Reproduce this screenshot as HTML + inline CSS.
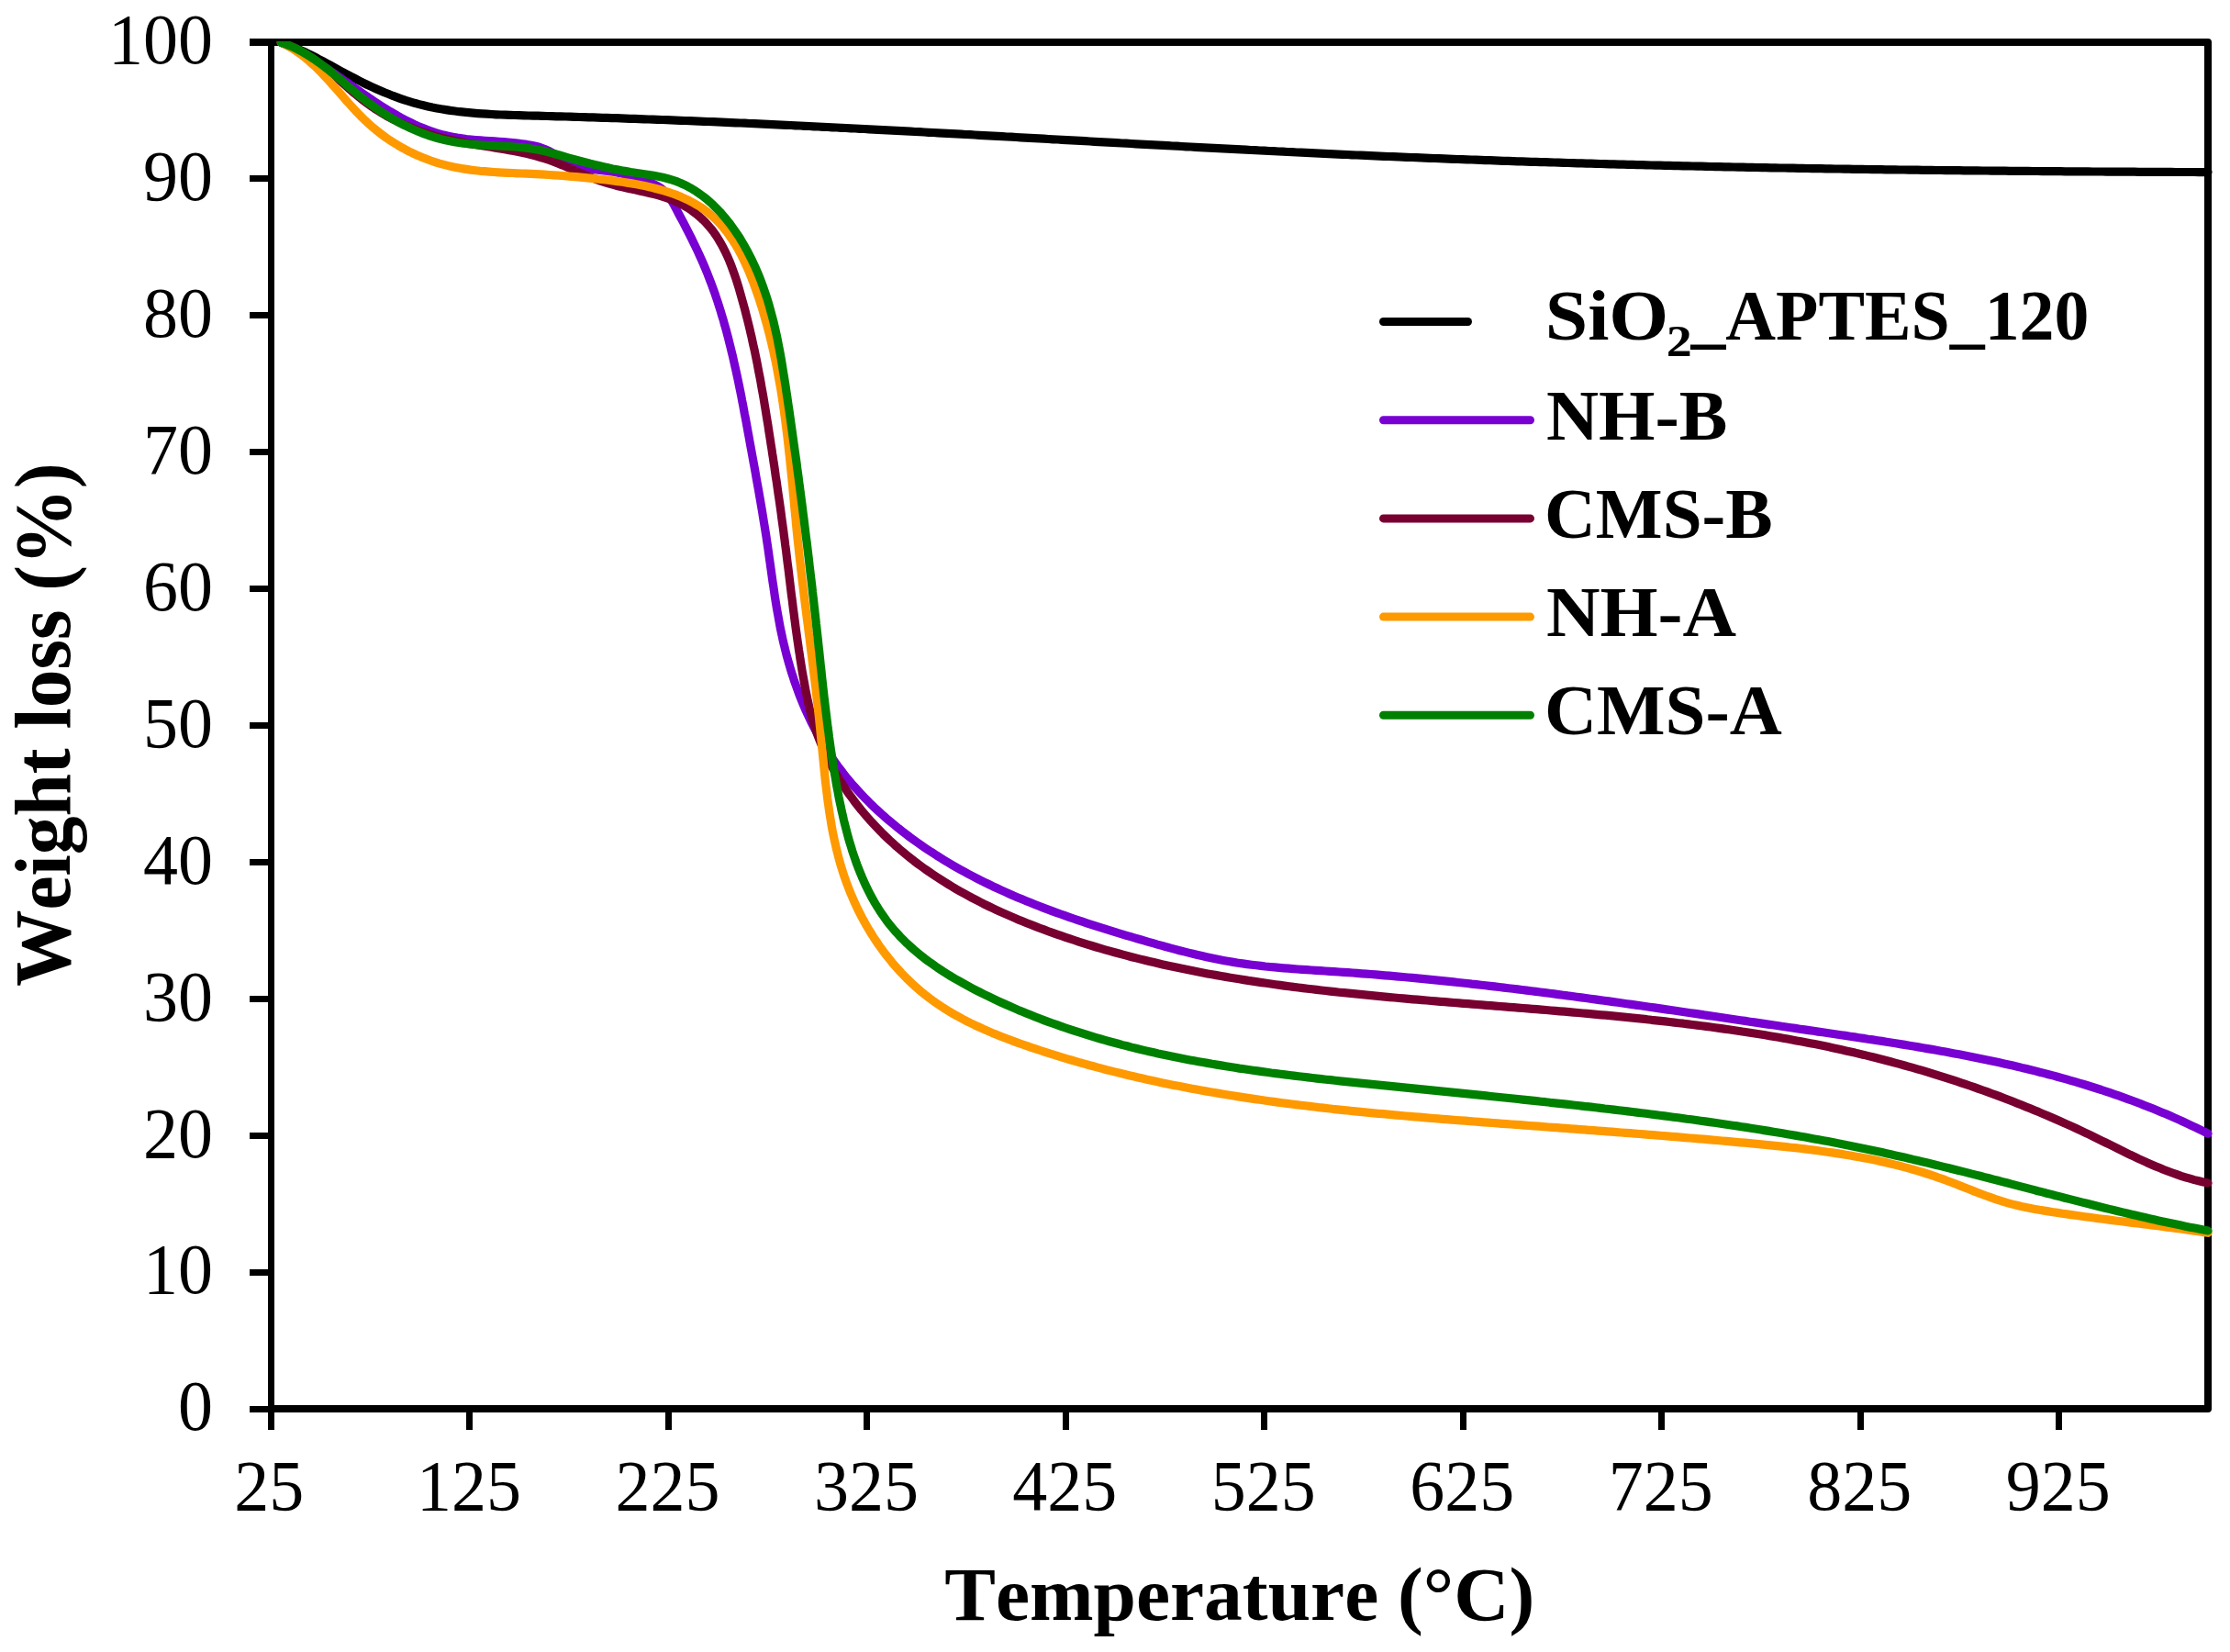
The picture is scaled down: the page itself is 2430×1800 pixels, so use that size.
<!DOCTYPE html>
<html><head><meta charset="utf-8"><title>TGA weight loss</title>
<style>
html,body{margin:0;padding:0;background:#fff;}
body{width:2430px;height:1800px;overflow:hidden;}
svg{display:block;}
.tick{font-family:"Liberation Serif","Times New Roman",serif;font-size:76px;fill:#000;}
.title{font-family:"Liberation Serif","Times New Roman",serif;font-weight:bold;fill:#000;font-kerning:none;}
.leg{font-family:"Liberation Serif","Times New Roman",serif;font-weight:bold;fill:#000;font-kerning:none;}
</style></head><body>
<svg width="2430" height="1800" viewBox="0 0 2430 1800">
<rect width="2430" height="1800" fill="#fff"/>
<defs><clipPath id="pc"><rect x="301" y="45" width="2129" height="1490"/></clipPath></defs>

<g fill="#000">
<path d="M272 46 H2406 V1535 H293" fill="none" stroke="#000" stroke-width="8" stroke-linejoin="round" stroke-linecap="butt"/>
<rect x="292" y="42" width="7" height="1516"/>
<rect x="272" y="1532" width="22" height="7"/>
<rect x="272" y="1383" width="22" height="7"/>
<rect x="272" y="1234" width="22" height="7"/>
<rect x="272" y="1085" width="22" height="7"/>
<rect x="272" y="936" width="22" height="7"/>
<rect x="272" y="787" width="22" height="7"/>
<rect x="272" y="638" width="22" height="7"/>
<rect x="272" y="489" width="22" height="7"/>
<rect x="272" y="340" width="22" height="7"/>
<rect x="272" y="191" width="22" height="7"/>
<rect x="508" y="1535" width="7" height="23"/>
<rect x="725" y="1535" width="7" height="23"/>
<rect x="941" y="1535" width="7" height="23"/>
<rect x="1158" y="1535" width="7" height="23"/>
<rect x="1374" y="1535" width="7" height="23"/>
<rect x="1591" y="1535" width="7" height="23"/>
<rect x="1807" y="1535" width="7" height="23"/>
<rect x="2024" y="1535" width="7" height="23"/>
<rect x="2240" y="1535" width="7" height="23"/>
</g>
<g fill="none" stroke-width="9.2" stroke-linecap="round" stroke-linejoin="round" clip-path="url(#pc)">
<path stroke="#000000" d="M306.3 46.3 L311.0 47.9 L315.6 49.6 L320.2 51.4 L324.7 53.4 L329.3 55.4 L333.8 57.5 L338.2 59.7 L342.7 61.9 L347.1 64.3 L351.6 66.6 L356.0 69.0 L360.4 71.4 L364.8 73.8 L369.2 76.2 L373.6 78.7 L378.1 81.0 L382.5 83.4 L387.0 85.7 L391.5 88.0 L396.0 90.3 L400.5 92.5 L405.1 94.6 L409.7 96.7 L414.3 98.7 L418.9 100.7 L423.5 102.5 L428.2 104.4 L432.8 106.1 L437.5 107.8 L442.2 109.4 L447.0 110.8 L451.8 112.3 L456.6 113.6 L461.4 114.8 L466.2 115.9 L471.1 117.0 L475.9 117.9 L480.8 118.8 L485.8 119.6 L490.7 120.4 L495.6 121.0 L500.6 121.7 L505.6 122.2 L510.6 122.7 L515.6 123.2 L520.6 123.6 L525.6 123.9 L530.6 124.2 L535.7 124.5 L540.7 124.8 L545.8 125.0 L550.8 125.2 L555.9 125.4 L560.9 125.5 L566.0 125.7 L571.0 125.8 L576.1 126.0 L581.1 126.1 L586.2 126.2 L591.2 126.4 L596.2 126.5 L601.3 126.6 L606.3 126.8 L611.3 126.9 L616.4 127.0 L621.4 127.2 L626.4 127.3 L631.4 127.5 L636.5 127.6 L641.5 127.8 L646.5 127.9 L651.5 128.1 L656.5 128.3 L661.5 128.4 L666.5 128.6 L671.5 128.7 L676.5 128.9 L681.6 129.1 L686.6 129.3 L691.6 129.4 L696.6 129.6 L701.6 129.8 L706.6 130.0 L711.6 130.1 L716.6 130.3 L721.6 130.5 L726.6 130.7 L731.6 130.9 L736.6 131.1 L741.6 131.3 L746.7 131.5 L751.7 131.7 L756.7 131.9 L761.7 132.1 L766.7 132.3 L771.7 132.5 L776.7 132.7 L781.7 132.9 L786.7 133.1 L791.7 133.3 L796.7 133.6 L801.7 133.8 L806.7 134.0 L811.8 134.2 L816.8 134.5 L821.8 134.7 L826.8 134.9 L831.8 135.1 L836.8 135.4 L841.8 135.6 L846.8 135.8 L851.8 136.1 L856.8 136.3 L861.8 136.5 L866.8 136.8 L871.9 137.0 L876.9 137.3 L881.9 137.5 L886.9 137.8 L891.9 138.0 L896.9 138.3 L901.9 138.5 L906.9 138.8 L911.9 139.0 L916.9 139.3 L921.9 139.5 L927.0 139.8 L932.0 140.0 L937.0 140.3 L942.0 140.5 L947.0 140.8 L952.0 141.1 L957.0 141.3 L962.0 141.6 L967.0 141.9 L972.0 142.1 L977.0 142.4 L982.1 142.6 L987.1 142.9 L992.1 143.2 L997.1 143.5 L1002.1 143.7 L1007.1 144.0 L1012.1 144.3 L1017.1 144.5 L1022.1 144.8 L1027.1 145.1 L1032.1 145.4 L1037.2 145.6 L1042.2 145.9 L1047.2 146.2 L1052.2 146.5 L1057.2 146.7 L1062.2 147.0 L1067.2 147.3 L1072.2 147.6 L1077.2 147.8 L1082.2 148.1 L1087.3 148.4 L1092.3 148.7 L1097.3 149.0 L1102.3 149.2 L1107.3 149.5 L1112.3 149.8 L1117.3 150.1 L1122.3 150.4 L1127.3 150.6 L1132.3 150.9 L1137.4 151.2 L1142.4 151.5 L1147.4 151.8 L1152.4 152.0 L1157.4 152.3 L1162.4 152.6 L1167.4 152.9 L1172.4 153.2 L1177.4 153.4 L1182.5 153.7 L1187.5 154.0 L1192.5 154.3 L1197.5 154.6 L1202.5 154.8 L1207.5 155.1 L1212.5 155.4 L1217.5 155.7 L1222.5 156.0 L1227.5 156.2 L1232.6 156.5 L1237.6 156.8 L1242.6 157.1 L1247.6 157.3 L1252.6 157.6 L1257.6 157.9 L1262.6 158.2 L1267.6 158.4 L1272.6 158.7 L1277.7 159.0 L1282.7 159.2 L1287.7 159.5 L1292.7 159.8 L1297.7 160.0 L1302.7 160.3 L1307.7 160.6 L1312.7 160.9 L1317.7 161.1 L1322.8 161.4 L1327.8 161.6 L1332.8 161.9 L1337.8 162.2 L1342.8 162.4 L1347.8 162.7 L1352.8 162.9 L1357.8 163.2 L1362.9 163.5 L1367.9 163.7 L1372.9 164.0 L1377.9 164.2 L1382.9 164.5 L1387.9 164.7 L1392.9 165.0 L1397.9 165.2 L1403.0 165.5 L1408.0 165.7 L1413.0 166.0 L1418.0 166.2 L1423.0 166.4 L1428.0 166.7 L1433.0 166.9 L1438.0 167.2 L1443.0 167.4 L1448.1 167.6 L1453.1 167.9 L1458.1 168.1 L1463.1 168.3 L1468.1 168.5 L1473.1 168.8 L1478.1 169.0 L1483.1 169.2 L1488.2 169.4 L1493.2 169.7 L1498.2 169.9 L1503.2 170.1 L1508.2 170.3 L1513.2 170.5 L1518.2 170.7 L1523.3 170.9 L1528.3 171.1 L1533.3 171.3 L1538.3 171.5 L1543.3 171.7 L1548.3 171.9 L1553.3 172.1 L1558.3 172.3 L1563.4 172.5 L1568.4 172.7 L1573.4 172.9 L1578.4 173.1 L1583.4 173.3 L1588.4 173.5 L1593.4 173.7 L1598.4 173.9 L1603.5 174.0 L1608.5 174.2 L1613.5 174.4 L1618.5 174.6 L1623.5 174.7 L1628.5 174.9 L1633.5 175.1 L1638.6 175.3 L1643.6 175.4 L1648.6 175.6 L1653.6 175.8 L1658.6 175.9 L1663.6 176.1 L1668.6 176.3 L1673.7 176.4 L1678.7 176.6 L1683.7 176.7 L1688.7 176.9 L1693.7 177.0 L1698.7 177.2 L1703.7 177.3 L1708.8 177.5 L1713.8 177.6 L1718.8 177.8 L1723.8 177.9 L1728.8 178.1 L1733.8 178.2 L1738.8 178.4 L1743.9 178.5 L1748.9 178.6 L1753.9 178.8 L1758.9 178.9 L1763.9 179.1 L1768.9 179.2 L1773.9 179.3 L1779.0 179.4 L1784.0 179.6 L1789.0 179.7 L1794.0 179.8 L1799.0 180.0 L1804.0 180.1 L1809.0 180.2 L1814.1 180.3 L1819.1 180.4 L1824.1 180.6 L1829.1 180.7 L1834.1 180.8 L1839.1 180.9 L1844.1 181.0 L1849.2 181.1 L1854.2 181.2 L1859.2 181.4 L1864.2 181.5 L1869.2 181.6 L1874.2 181.7 L1879.3 181.8 L1884.3 181.9 L1889.3 182.0 L1894.3 182.1 L1899.3 182.2 L1904.3 182.3 L1909.3 182.4 L1914.4 182.5 L1919.4 182.6 L1924.4 182.7 L1929.4 182.8 L1934.4 182.9 L1939.4 183.0 L1944.5 183.0 L1949.5 183.1 L1954.5 183.2 L1959.5 183.3 L1964.5 183.4 L1969.5 183.5 L1974.5 183.6 L1979.6 183.6 L1984.6 183.7 L1989.6 183.8 L1994.6 183.9 L1999.6 184.0 L2004.6 184.0 L2009.7 184.1 L2014.7 184.2 L2019.7 184.3 L2024.7 184.3 L2029.7 184.4 L2034.7 184.5 L2039.8 184.6 L2044.8 184.6 L2049.8 184.7 L2054.8 184.8 L2059.8 184.8 L2064.8 184.9 L2069.8 185.0 L2074.9 185.0 L2079.9 185.1 L2084.9 185.2 L2089.9 185.2 L2094.9 185.3 L2099.9 185.3 L2105.0 185.4 L2110.0 185.5 L2115.0 185.5 L2120.0 185.6 L2125.0 185.6 L2130.0 185.7 L2135.1 185.7 L2140.1 185.8 L2145.1 185.8 L2150.1 185.9 L2155.1 185.9 L2160.1 186.0 L2165.2 186.0 L2170.2 186.1 L2175.2 186.1 L2180.2 186.2 L2185.2 186.2 L2190.2 186.3 L2195.3 186.3 L2200.3 186.4 L2205.3 186.4 L2210.3 186.4 L2215.3 186.5 L2220.3 186.5 L2225.4 186.6 L2230.4 186.6 L2235.4 186.6 L2240.4 186.7 L2245.4 186.7 L2250.5 186.8 L2255.5 186.8 L2260.5 186.8 L2265.5 186.9 L2270.5 186.9 L2275.5 186.9 L2280.6 187.0 L2285.6 187.0 L2290.6 187.0 L2295.6 187.1 L2300.6 187.1 L2305.6 187.1 L2310.7 187.1 L2315.7 187.2 L2320.7 187.2 L2325.7 187.2 L2330.7 187.3 L2335.8 187.3 L2340.8 187.3 L2345.8 187.3 L2350.8 187.4 L2355.8 187.4 L2360.8 187.4 L2365.9 187.4 L2370.9 187.5 L2375.9 187.5 L2380.9 187.5 L2385.9 187.5 L2390.9 187.5 L2396.0 187.6 L2401.0 187.6 L2406.0 187.6"/>
<path stroke="#7800D2" d="M306.3 46.3 L310.8 48.3 L315.2 50.4 L319.6 52.7 L324.0 55.0 L328.3 57.4 L332.6 59.8 L336.9 62.4 L341.1 65.0 L345.4 67.6 L349.6 70.3 L353.8 73.1 L358.0 75.9 L362.2 78.8 L366.3 81.6 L370.5 84.5 L374.6 87.4 L378.8 90.3 L382.9 93.2 L387.1 96.2 L391.2 99.1 L395.4 102.0 L399.6 104.8 L403.7 107.7 L407.9 110.5 L412.2 113.3 L416.4 116.0 L420.6 118.6 L424.9 121.3 L429.2 123.8 L433.5 126.3 L437.9 128.7 L442.3 131.0 L446.7 133.2 L451.1 135.4 L455.6 137.4 L460.2 139.3 L464.7 141.1 L469.4 142.8 L474.0 144.4 L478.8 145.8 L483.5 147.1 L488.4 148.2 L493.3 149.2 L498.2 150.1 L503.2 150.8 L508.2 151.5 L513.2 152.0 L518.3 152.5 L523.4 152.9 L528.5 153.3 L533.6 153.6 L538.8 153.9 L543.9 154.3 L549.0 154.7 L554.0 155.1 L559.1 155.5 L564.1 156.1 L569.1 156.7 L574.0 157.4 L578.9 158.3 L583.7 159.3 L588.4 160.5 L593.0 162.2 L597.5 164.2 L602.0 166.5 L606.5 168.8 L611.0 171.2 L615.4 173.6 L620.0 176.0 L624.5 178.1 L629.1 180.1 L633.8 181.7 L638.6 183.0 L643.5 184.0 L648.4 184.8 L653.4 185.5 L658.4 186.0 L663.4 186.6 L668.3 187.3 L673.3 188.2 L678.2 189.2 L683.0 190.5 L687.8 191.9 L692.6 193.5 L697.4 195.1 L702.1 196.8 L706.9 198.6 L711.6 200.4 L716.0 202.5 L720.2 205.0 L723.8 208.0 L727.0 211.5 L729.8 215.5 L732.4 219.7 L734.9 224.1 L737.3 228.6 L739.6 233.0 L742.0 237.5 L744.4 241.9 L746.7 246.4 L749.0 250.9 L751.3 255.3 L753.6 259.9 L755.8 264.4 L758.0 268.9 L760.1 273.4 L762.2 278.0 L764.3 282.6 L766.3 287.2 L768.3 291.8 L770.2 296.4 L772.0 301.1 L773.8 305.7 L775.6 310.4 L777.3 315.1 L779.0 319.8 L780.6 324.6 L782.2 329.3 L783.7 334.1 L785.2 338.8 L786.6 343.6 L788.1 348.4 L789.4 353.2 L790.8 358.0 L792.1 362.9 L793.4 367.7 L794.6 372.6 L795.8 377.4 L797.0 382.3 L798.2 387.2 L799.3 392.0 L800.4 396.9 L801.5 401.8 L802.6 406.7 L803.7 411.7 L804.7 416.6 L805.7 421.5 L806.7 426.4 L807.7 431.3 L808.6 436.3 L809.6 441.2 L810.5 446.1 L811.4 451.1 L812.4 456.0 L813.3 460.9 L814.2 465.9 L815.1 470.8 L816.0 475.7 L816.9 480.7 L817.8 485.6 L818.7 490.5 L819.6 495.5 L820.5 500.4 L821.4 505.3 L822.3 510.2 L823.2 515.2 L824.0 520.1 L824.9 525.0 L825.8 529.9 L826.7 534.9 L827.5 539.8 L828.4 544.7 L829.2 549.6 L830.1 554.6 L830.9 559.5 L831.7 564.4 L832.5 569.4 L833.3 574.3 L834.1 579.3 L834.9 584.2 L835.6 589.2 L836.4 594.2 L837.1 599.1 L837.8 604.1 L838.5 609.1 L839.2 614.0 L839.9 619.0 L840.6 624.0 L841.3 629.0 L842.0 634.0 L842.8 639.0 L843.5 643.9 L844.2 648.9 L845.0 653.9 L845.8 658.9 L846.6 663.8 L847.5 668.8 L848.4 673.7 L849.3 678.7 L850.2 683.6 L851.2 688.5 L852.3 693.4 L853.3 698.3 L854.5 703.2 L855.7 708.1 L856.9 713.0 L858.2 717.8 L859.6 722.6 L861.0 727.5 L862.4 732.3 L864.0 737.0 L865.5 741.8 L867.2 746.5 L868.9 751.2 L870.6 755.9 L872.4 760.6 L874.3 765.2 L876.2 769.8 L878.2 774.4 L880.3 778.9 L882.4 783.4 L884.6 787.9 L886.9 792.3 L889.2 796.7 L891.5 801.1 L894.0 805.5 L896.5 809.7 L899.0 814.0 L901.7 818.2 L904.4 822.4 L907.2 826.5 L910.0 830.6 L912.9 834.7 L915.9 838.6 L918.9 842.6 L922.0 846.5 L925.2 850.4 L928.4 854.2 L931.7 857.9 L935.1 861.6 L938.5 865.3 L941.9 868.9 L945.5 872.5 L949.0 876.1 L952.6 879.6 L956.3 883.0 L960.0 886.4 L963.8 889.7 L967.6 893.1 L971.5 896.3 L975.4 899.5 L979.3 902.7 L983.3 905.8 L987.3 908.9 L991.3 912.0 L995.4 914.9 L999.5 917.9 L1003.6 920.8 L1007.8 923.7 L1012.0 926.5 L1016.2 929.2 L1020.5 932.0 L1024.7 934.6 L1029.0 937.3 L1033.3 939.9 L1037.6 942.4 L1042.0 944.9 L1046.4 947.4 L1050.7 949.8 L1055.1 952.2 L1059.5 954.5 L1064.0 956.8 L1068.4 959.1 L1072.9 961.3 L1077.4 963.5 L1081.8 965.7 L1086.4 967.8 L1090.9 969.9 L1095.4 971.9 L1100.0 974.0 L1104.5 976.0 L1109.1 977.9 L1113.7 979.8 L1118.3 981.7 L1122.9 983.6 L1127.6 985.5 L1132.2 987.3 L1136.9 989.1 L1141.6 990.8 L1146.3 992.6 L1151.0 994.3 L1155.7 996.0 L1160.4 997.7 L1165.1 999.3 L1169.9 1001.0 L1174.6 1002.6 L1179.4 1004.2 L1184.2 1005.8 L1188.9 1007.3 L1193.7 1008.9 L1198.5 1010.4 L1203.3 1011.9 L1208.1 1013.4 L1212.9 1014.9 L1217.7 1016.4 L1222.6 1017.8 L1227.4 1019.3 L1232.2 1020.7 L1237.0 1022.1 L1241.9 1023.5 L1246.7 1024.9 L1251.5 1026.3 L1256.4 1027.7 L1261.2 1029.1 L1266.1 1030.4 L1270.9 1031.8 L1275.8 1033.1 L1280.6 1034.4 L1285.5 1035.7 L1290.3 1036.9 L1295.2 1038.1 L1300.0 1039.3 L1304.9 1040.5 L1309.8 1041.6 L1314.7 1042.7 L1319.6 1043.8 L1324.5 1044.8 L1329.4 1045.8 L1334.3 1046.7 L1339.2 1047.6 L1344.1 1048.4 L1349.1 1049.2 L1354.0 1049.9 L1359.0 1050.6 L1363.9 1051.2 L1368.9 1051.8 L1373.9 1052.4 L1378.8 1053.0 L1383.8 1053.5 L1388.8 1053.9 L1393.8 1054.4 L1398.8 1054.8 L1403.8 1055.2 L1408.8 1055.6 L1413.8 1056.0 L1418.8 1056.3 L1423.9 1056.7 L1428.9 1057.0 L1433.9 1057.3 L1438.9 1057.7 L1443.9 1058.0 L1448.9 1058.3 L1454.0 1058.6 L1459.0 1059.0 L1464.0 1059.3 L1469.0 1059.7 L1474.0 1060.0 L1479.0 1060.4 L1484.0 1060.8 L1489.0 1061.1 L1494.0 1061.5 L1499.0 1061.9 L1504.0 1062.4 L1509.0 1062.8 L1514.0 1063.2 L1519.0 1063.6 L1524.0 1064.1 L1529.0 1064.5 L1534.0 1065.0 L1539.0 1065.4 L1544.0 1065.9 L1549.0 1066.4 L1554.0 1066.9 L1559.0 1067.4 L1564.0 1067.9 L1569.0 1068.4 L1573.9 1068.9 L1578.9 1069.4 L1583.9 1069.9 L1588.9 1070.5 L1593.9 1071.0 L1598.9 1071.5 L1603.8 1072.1 L1608.8 1072.6 L1613.8 1073.2 L1618.8 1073.8 L1623.7 1074.3 L1628.7 1074.9 L1633.7 1075.5 L1638.7 1076.1 L1643.6 1076.7 L1648.6 1077.3 L1653.6 1077.9 L1658.5 1078.5 L1663.5 1079.1 L1668.5 1079.7 L1673.5 1080.4 L1678.4 1081.0 L1683.4 1081.6 L1688.4 1082.3 L1693.3 1082.9 L1698.3 1083.6 L1703.3 1084.2 L1708.2 1084.9 L1713.2 1085.5 L1718.1 1086.2 L1723.1 1086.9 L1728.1 1087.5 L1733.0 1088.2 L1738.0 1088.9 L1743.0 1089.6 L1747.9 1090.2 L1752.9 1090.9 L1757.8 1091.6 L1762.8 1092.3 L1767.8 1093.0 L1772.7 1093.7 L1777.7 1094.4 L1782.6 1095.1 L1787.6 1095.8 L1792.6 1096.5 L1797.5 1097.2 L1802.5 1097.9 L1807.4 1098.6 L1812.4 1099.4 L1817.4 1100.1 L1822.3 1100.8 L1827.3 1101.5 L1832.2 1102.2 L1837.2 1103.0 L1842.2 1103.7 L1847.1 1104.4 L1852.1 1105.1 L1857.0 1105.9 L1862.0 1106.6 L1867.0 1107.3 L1871.9 1108.0 L1876.9 1108.8 L1881.8 1109.5 L1886.8 1110.2 L1891.8 1111.0 L1896.7 1111.7 L1901.7 1112.4 L1906.7 1113.2 L1911.6 1113.9 L1916.6 1114.6 L1921.6 1115.4 L1926.5 1116.1 L1931.5 1116.8 L1936.5 1117.5 L1941.4 1118.3 L1946.4 1119.0 L1951.4 1119.7 L1956.3 1120.4 L1961.3 1121.2 L1966.3 1121.9 L1971.2 1122.6 L1976.2 1123.3 L1981.2 1124.1 L1986.2 1124.8 L1991.1 1125.5 L1996.1 1126.2 L2001.1 1127.0 L2006.0 1127.7 L2011.0 1128.4 L2016.0 1129.2 L2020.9 1129.9 L2025.9 1130.7 L2030.9 1131.4 L2035.8 1132.2 L2040.8 1132.9 L2045.8 1133.7 L2050.7 1134.4 L2055.7 1135.2 L2060.7 1136.0 L2065.6 1136.8 L2070.6 1137.6 L2075.5 1138.4 L2080.5 1139.2 L2085.4 1140.0 L2090.4 1140.9 L2095.3 1141.7 L2100.3 1142.6 L2105.2 1143.4 L2110.1 1144.3 L2115.1 1145.2 L2120.0 1146.1 L2124.9 1147.0 L2129.8 1147.9 L2134.8 1148.8 L2139.7 1149.8 L2144.6 1150.7 L2149.5 1151.7 L2154.4 1152.7 L2159.3 1153.7 L2164.2 1154.7 L2169.1 1155.7 L2174.0 1156.8 L2178.9 1157.8 L2183.8 1158.9 L2188.6 1160.0 L2193.5 1161.1 L2198.4 1162.2 L2203.2 1163.4 L2208.1 1164.5 L2212.9 1165.7 L2217.8 1166.9 L2222.6 1168.2 L2227.5 1169.4 L2232.3 1170.7 L2237.1 1171.9 L2241.9 1173.2 L2246.8 1174.6 L2251.6 1175.9 L2256.4 1177.3 L2261.1 1178.7 L2265.9 1180.1 L2270.7 1181.5 L2275.5 1183.0 L2280.3 1184.5 L2285.0 1186.0 L2289.8 1187.5 L2294.5 1189.1 L2299.3 1190.7 L2304.0 1192.3 L2308.7 1193.9 L2313.4 1195.6 L2318.1 1197.3 L2322.8 1199.0 L2327.5 1200.8 L2332.2 1202.5 L2336.9 1204.4 L2341.6 1206.2 L2346.2 1208.1 L2350.9 1210.0 L2355.5 1211.9 L2360.2 1213.8 L2364.8 1215.8 L2369.4 1217.9 L2374.0 1219.9 L2378.6 1222.0 L2383.2 1224.1 L2387.8 1226.3 L2392.3 1228.4 L2396.9 1230.7 L2401.5 1232.9 L2406.0 1235.2"/>
<path stroke="#780030" d="M306.3 46.3 L311.1 47.9 L315.8 49.7 L320.4 51.7 L324.9 54.0 L329.2 56.3 L333.5 58.9 L337.7 61.6 L341.8 64.4 L345.8 67.4 L349.8 70.5 L353.7 73.6 L357.6 76.8 L361.4 80.1 L365.2 83.4 L369.1 86.7 L372.9 90.1 L376.7 93.4 L380.5 96.8 L384.3 100.1 L388.2 103.3 L392.1 106.5 L396.0 109.6 L400.0 112.6 L404.1 115.5 L408.2 118.3 L412.4 121.0 L416.6 123.6 L420.9 126.1 L425.2 128.4 L429.6 130.7 L434.1 132.9 L438.6 135.0 L443.1 137.0 L447.7 138.9 L452.3 140.8 L457.0 142.5 L461.7 144.1 L466.4 145.7 L471.2 147.2 L476.0 148.6 L480.8 149.9 L485.6 151.1 L490.5 152.3 L495.4 153.3 L500.3 154.3 L505.3 155.3 L510.2 156.2 L515.2 157.1 L520.1 157.9 L525.1 158.7 L530.1 159.5 L535.1 160.3 L540.0 161.1 L545.0 161.9 L550.0 162.8 L554.9 163.6 L559.9 164.5 L564.8 165.5 L569.7 166.5 L574.6 167.6 L579.4 168.8 L584.3 170.1 L589.1 171.5 L593.8 172.9 L598.6 174.5 L603.3 176.2 L607.9 178.0 L612.6 179.9 L617.2 181.9 L621.8 183.8 L626.4 185.9 L631.0 187.9 L635.6 189.8 L640.2 191.8 L644.9 193.6 L649.5 195.4 L654.2 197.1 L658.9 198.6 L663.7 200.1 L668.5 201.4 L673.3 202.7 L678.2 203.9 L683.1 205.0 L688.0 206.1 L693.0 207.1 L697.9 208.2 L702.9 209.3 L707.8 210.4 L712.7 211.6 L717.6 212.9 L722.4 214.3 L727.2 215.9 L731.8 217.6 L736.4 219.5 L740.9 221.7 L745.2 224.0 L749.5 226.5 L753.6 229.3 L757.5 232.2 L761.4 235.3 L765.0 238.6 L768.5 242.0 L771.8 245.7 L775.0 249.4 L778.0 253.3 L780.8 257.4 L783.4 261.6 L785.9 265.9 L788.3 270.3 L790.6 274.8 L792.7 279.4 L794.7 284.0 L796.6 288.8 L798.4 293.6 L800.1 298.4 L801.8 303.3 L803.4 308.2 L804.9 313.1 L806.3 318.1 L807.7 323.0 L809.1 327.9 L810.5 332.9 L811.8 337.8 L813.0 342.7 L814.3 347.6 L815.5 352.5 L816.7 357.4 L817.8 362.3 L819.0 367.2 L820.0 372.0 L821.1 376.9 L822.2 381.8 L823.2 386.7 L824.2 391.5 L825.2 396.4 L826.1 401.3 L827.0 406.1 L828.0 411.0 L828.9 415.9 L829.7 420.7 L830.6 425.6 L831.5 430.5 L832.3 435.3 L833.1 440.2 L833.9 445.1 L834.7 450.0 L835.5 454.9 L836.3 459.8 L837.1 464.6 L837.8 469.6 L838.6 474.5 L839.4 479.4 L840.1 484.3 L840.9 489.2 L841.6 494.2 L842.4 499.1 L843.1 504.1 L843.9 509.0 L844.6 514.0 L845.3 519.0 L846.1 523.9 L846.8 528.9 L847.5 533.9 L848.2 538.9 L849.0 543.9 L849.7 548.9 L850.4 553.9 L851.1 558.9 L851.7 563.9 L852.4 568.9 L853.1 573.9 L853.8 578.9 L854.4 583.9 L855.1 588.9 L855.7 593.9 L856.4 598.8 L857.0 603.8 L857.6 608.8 L858.2 613.8 L858.9 618.8 L859.5 623.8 L860.1 628.8 L860.7 633.8 L861.3 638.7 L861.9 643.7 L862.5 648.7 L863.2 653.7 L863.8 658.6 L864.4 663.6 L865.1 668.6 L865.7 673.5 L866.4 678.5 L867.0 683.4 L867.7 688.4 L868.4 693.3 L869.1 698.3 L869.8 703.2 L870.5 708.2 L871.3 713.1 L872.0 718.1 L872.8 723.0 L873.6 727.9 L874.4 732.9 L875.3 737.8 L876.2 742.7 L877.1 747.6 L878.0 752.5 L879.0 757.4 L880.0 762.3 L881.1 767.2 L882.2 772.0 L883.4 776.9 L884.7 781.7 L886.1 786.4 L887.6 791.2 L889.1 795.9 L890.8 800.6 L892.6 805.3 L894.4 809.9 L896.4 814.5 L898.4 819.0 L900.5 823.6 L902.7 828.0 L905.0 832.5 L907.4 836.9 L909.9 841.3 L912.4 845.6 L915.0 849.9 L917.7 854.1 L920.5 858.3 L923.3 862.5 L926.2 866.6 L929.2 870.6 L932.2 874.7 L935.3 878.6 L938.5 882.6 L941.7 886.4 L945.0 890.3 L948.3 894.0 L951.7 897.7 L955.2 901.4 L958.7 905.0 L962.2 908.6 L965.8 912.1 L969.5 915.6 L973.2 918.9 L976.9 922.3 L980.7 925.6 L984.5 928.8 L988.4 932.0 L992.3 935.1 L996.2 938.2 L1000.2 941.2 L1004.2 944.1 L1008.3 947.1 L1012.4 949.9 L1016.5 952.7 L1020.7 955.5 L1024.8 958.2 L1029.1 960.9 L1033.3 963.5 L1037.6 966.1 L1041.9 968.7 L1046.3 971.2 L1050.6 973.6 L1055.0 976.0 L1059.4 978.4 L1063.9 980.7 L1068.4 983.0 L1072.9 985.3 L1077.4 987.5 L1081.9 989.6 L1086.5 991.8 L1091.0 993.9 L1095.6 995.9 L1100.2 997.9 L1104.8 999.9 L1109.5 1001.9 L1114.1 1003.8 L1118.8 1005.7 L1123.5 1007.6 L1128.2 1009.4 L1132.9 1011.2 L1137.6 1012.9 L1142.3 1014.7 L1147.0 1016.4 L1151.8 1018.1 L1156.5 1019.7 L1161.2 1021.3 L1166.0 1022.9 L1170.8 1024.5 L1175.5 1026.1 L1180.3 1027.6 L1185.1 1029.1 L1189.8 1030.5 L1194.6 1032.0 L1199.4 1033.4 L1204.2 1034.8 L1209.0 1036.2 L1213.8 1037.5 L1218.6 1038.8 L1223.5 1040.1 L1228.3 1041.4 L1233.1 1042.7 L1237.9 1043.9 L1242.8 1045.1 L1247.6 1046.3 L1252.5 1047.5 L1257.3 1048.6 L1262.2 1049.8 L1267.1 1050.9 L1271.9 1051.9 L1276.8 1053.0 L1281.7 1054.1 L1286.5 1055.1 L1291.4 1056.1 L1296.3 1057.1 L1301.2 1058.1 L1306.1 1059.0 L1311.0 1059.9 L1315.9 1060.9 L1320.8 1061.8 L1325.7 1062.6 L1330.6 1063.5 L1335.6 1064.4 L1340.5 1065.2 L1345.4 1066.0 L1350.3 1066.8 L1355.3 1067.6 L1360.2 1068.4 L1365.2 1069.1 L1370.1 1069.9 L1375.0 1070.6 L1380.0 1071.3 L1384.9 1072.0 L1389.9 1072.7 L1394.8 1073.4 L1399.8 1074.1 L1404.8 1074.7 L1409.7 1075.4 L1414.7 1076.0 L1419.7 1076.6 L1424.6 1077.2 L1429.6 1077.8 L1434.6 1078.4 L1439.6 1079.0 L1444.5 1079.5 L1449.5 1080.1 L1454.5 1080.6 L1459.5 1081.2 L1464.5 1081.7 L1469.5 1082.2 L1474.5 1082.7 L1479.5 1083.2 L1484.5 1083.7 L1489.4 1084.2 L1494.4 1084.7 L1499.4 1085.2 L1504.4 1085.6 L1509.4 1086.1 L1514.4 1086.6 L1519.4 1087.0 L1524.4 1087.5 L1529.4 1087.9 L1534.5 1088.3 L1539.5 1088.8 L1544.5 1089.2 L1549.5 1089.6 L1554.5 1090.0 L1559.5 1090.5 L1564.5 1090.9 L1569.5 1091.3 L1574.5 1091.7 L1579.5 1092.1 L1584.5 1092.5 L1589.5 1092.9 L1594.5 1093.3 L1599.6 1093.7 L1604.6 1094.1 L1609.6 1094.5 L1614.6 1094.9 L1619.6 1095.3 L1624.6 1095.7 L1629.6 1096.1 L1634.6 1096.5 L1639.6 1096.9 L1644.6 1097.3 L1649.6 1097.7 L1654.6 1098.1 L1659.7 1098.5 L1664.7 1098.9 L1669.7 1099.3 L1674.7 1099.7 L1679.7 1100.1 L1684.7 1100.5 L1689.7 1101.0 L1694.7 1101.4 L1699.7 1101.8 L1704.7 1102.2 L1709.7 1102.7 L1714.7 1103.1 L1719.7 1103.5 L1724.7 1104.0 L1729.7 1104.4 L1734.7 1104.9 L1739.7 1105.3 L1744.7 1105.8 L1749.7 1106.2 L1754.7 1106.7 L1759.7 1107.2 L1764.6 1107.7 L1769.6 1108.2 L1774.6 1108.7 L1779.6 1109.2 L1784.6 1109.7 L1789.6 1110.2 L1794.6 1110.7 L1799.5 1111.3 L1804.5 1111.8 L1809.5 1112.4 L1814.5 1112.9 L1819.4 1113.5 L1824.4 1114.1 L1829.4 1114.7 L1834.3 1115.2 L1839.3 1115.9 L1844.3 1116.5 L1849.2 1117.1 L1854.2 1117.7 L1859.2 1118.4 L1864.1 1119.0 L1869.1 1119.7 L1874.0 1120.4 L1879.0 1121.1 L1883.9 1121.8 L1888.9 1122.5 L1893.8 1123.2 L1898.7 1124.0 L1903.7 1124.7 L1908.6 1125.5 L1913.5 1126.2 L1918.5 1127.0 L1923.4 1127.8 L1928.3 1128.7 L1933.2 1129.5 L1938.2 1130.3 L1943.1 1131.2 L1948.0 1132.1 L1952.9 1133.0 L1957.8 1133.9 L1962.7 1134.8 L1967.6 1135.7 L1972.5 1136.7 L1977.4 1137.6 L1982.3 1138.6 L1987.2 1139.6 L1992.1 1140.6 L1997.0 1141.7 L2001.9 1142.7 L2006.7 1143.8 L2011.6 1144.9 L2016.5 1146.0 L2021.4 1147.1 L2026.2 1148.3 L2031.1 1149.4 L2035.9 1150.6 L2040.8 1151.8 L2045.7 1153.0 L2050.5 1154.2 L2055.3 1155.5 L2060.2 1156.8 L2065.0 1158.1 L2069.9 1159.4 L2074.7 1160.7 L2079.5 1162.1 L2084.3 1163.4 L2089.1 1164.8 L2093.9 1166.2 L2098.8 1167.7 L2103.6 1169.1 L2108.3 1170.6 L2113.1 1172.1 L2117.9 1173.6 L2122.7 1175.1 L2127.5 1176.7 L2132.2 1178.2 L2137.0 1179.8 L2141.8 1181.4 L2146.5 1183.0 L2151.3 1184.7 L2156.0 1186.4 L2160.7 1188.0 L2165.4 1189.7 L2170.2 1191.5 L2174.9 1193.2 L2179.6 1194.9 L2184.3 1196.7 L2189.0 1198.5 L2193.6 1200.3 L2198.3 1202.2 L2203.0 1204.0 L2207.6 1205.9 L2212.3 1207.8 L2216.9 1209.7 L2221.6 1211.6 L2226.2 1213.6 L2230.8 1215.5 L2235.4 1217.5 L2240.0 1219.5 L2244.6 1221.5 L2249.2 1223.6 L2253.8 1225.6 L2258.3 1227.7 L2262.9 1229.8 L2267.4 1231.9 L2272.0 1234.1 L2276.5 1236.2 L2281.0 1238.4 L2285.5 1240.6 L2290.0 1242.8 L2294.5 1245.0 L2299.0 1247.2 L2303.5 1249.4 L2308.0 1251.7 L2312.5 1253.9 L2316.9 1256.1 L2321.4 1258.3 L2326.0 1260.4 L2330.5 1262.6 L2335.0 1264.6 L2339.5 1266.7 L2344.1 1268.7 L2348.7 1270.7 L2353.3 1272.6 L2357.9 1274.5 L2362.6 1276.3 L2367.3 1278.0 L2372.0 1279.7 L2376.7 1281.3 L2381.5 1282.8 L2386.3 1284.2 L2391.2 1285.6 L2396.1 1286.8 L2401.0 1288.0 L2406.0 1289.0"/>
<path stroke="#FF9900" d="M306.3 46.3 L310.9 48.5 L315.3 50.9 L319.6 53.5 L323.8 56.3 L327.8 59.2 L331.7 62.2 L335.6 65.4 L339.3 68.7 L343.0 72.0 L346.6 75.5 L350.1 79.1 L353.6 82.8 L357.0 86.5 L360.4 90.2 L363.7 94.0 L367.1 97.8 L370.4 101.6 L373.8 105.4 L377.1 109.3 L380.5 113.0 L383.9 116.8 L387.3 120.5 L390.8 124.1 L394.3 127.7 L397.9 131.2 L401.6 134.6 L405.3 137.9 L409.1 141.1 L413.0 144.2 L417.0 147.2 L421.0 150.2 L425.1 153.0 L429.3 155.6 L433.5 158.2 L437.8 160.7 L442.1 163.1 L446.5 165.4 L451.0 167.5 L455.5 169.6 L460.1 171.5 L464.7 173.3 L469.3 175.0 L474.0 176.6 L478.8 178.1 L483.6 179.4 L488.4 180.6 L493.3 181.8 L498.2 182.7 L503.1 183.6 L508.1 184.4 L513.0 185.1 L518.0 185.7 L523.1 186.3 L528.1 186.7 L533.2 187.1 L538.2 187.5 L543.3 187.8 L548.3 188.1 L553.4 188.3 L558.4 188.5 L563.5 188.8 L568.5 189.0 L573.5 189.2 L578.5 189.4 L583.5 189.6 L588.4 189.9 L593.3 190.2 L598.2 190.5 L603.1 190.8 L608.0 191.1 L612.9 191.5 L617.8 191.9 L622.7 192.3 L627.6 192.7 L632.5 193.2 L637.5 193.6 L642.5 194.1 L647.5 194.6 L652.5 195.2 L657.6 195.7 L662.7 196.3 L667.8 196.9 L673.0 197.6 L678.1 198.3 L683.3 199.1 L688.4 199.9 L693.5 200.8 L698.6 201.8 L703.7 202.8 L708.7 203.9 L713.7 205.2 L718.6 206.5 L723.5 207.9 L728.3 209.4 L733.1 211.0 L737.8 212.7 L742.4 214.6 L746.8 216.6 L751.2 218.7 L755.5 221.0 L759.7 223.4 L763.8 225.9 L767.7 228.6 L771.5 231.5 L775.2 234.6 L778.7 237.8 L782.1 241.1 L785.4 244.7 L788.5 248.3 L791.5 252.1 L794.4 256.0 L797.2 260.0 L799.9 264.2 L802.5 268.4 L805.0 272.8 L807.3 277.2 L809.6 281.7 L811.8 286.3 L813.9 290.9 L816.0 295.6 L817.9 300.4 L819.8 305.1 L821.6 309.9 L823.4 314.8 L825.1 319.6 L826.8 324.5 L828.3 329.4 L829.9 334.2 L831.4 339.1 L832.8 344.0 L834.2 348.9 L835.6 353.8 L836.9 358.7 L838.2 363.6 L839.4 368.5 L840.6 373.4 L841.7 378.3 L842.9 383.2 L843.9 388.1 L845.0 393.0 L846.0 397.9 L846.9 402.8 L847.8 407.7 L848.7 412.7 L849.6 417.6 L850.5 422.5 L851.3 427.4 L852.1 432.4 L852.8 437.3 L853.5 442.2 L854.3 447.2 L854.9 452.1 L855.6 457.1 L856.2 462.0 L856.9 467.0 L857.5 471.9 L858.1 476.9 L858.6 481.8 L859.2 486.8 L859.7 491.7 L860.3 496.7 L860.8 501.6 L861.3 506.6 L861.8 511.5 L862.3 516.5 L862.8 521.5 L863.3 526.4 L863.8 531.4 L864.2 536.3 L864.7 541.3 L865.2 546.3 L865.6 551.2 L866.1 556.2 L866.6 561.2 L867.1 566.1 L867.5 571.1 L868.0 576.1 L868.5 581.0 L869.0 586.0 L869.5 590.9 L870.1 595.9 L870.6 600.9 L871.1 605.8 L871.7 610.8 L872.3 615.8 L872.8 620.7 L873.4 625.7 L874.0 630.7 L874.6 635.6 L875.2 640.6 L875.8 645.6 L876.4 650.5 L877.0 655.5 L877.6 660.4 L878.3 665.4 L878.9 670.4 L879.5 675.4 L880.2 680.3 L880.8 685.3 L881.4 690.3 L882.1 695.2 L882.7 700.2 L883.3 705.2 L883.9 710.2 L884.6 715.1 L885.2 720.1 L885.8 725.1 L886.4 730.1 L887.0 735.1 L887.7 740.1 L888.3 745.1 L888.9 750.1 L889.4 755.0 L890.0 760.0 L890.6 765.0 L891.2 770.0 L891.7 775.1 L892.3 780.1 L892.8 785.1 L893.3 790.1 L893.8 795.1 L894.3 800.1 L894.8 805.1 L895.3 810.2 L895.8 815.2 L896.3 820.2 L896.8 825.2 L897.3 830.2 L897.8 835.3 L898.3 840.3 L898.8 845.3 L899.3 850.3 L899.9 855.3 L900.5 860.3 L901.1 865.3 L901.7 870.3 L902.4 875.2 L903.1 880.2 L903.8 885.1 L904.6 890.1 L905.4 895.0 L906.2 899.9 L907.1 904.9 L908.1 909.8 L909.1 914.6 L910.2 919.5 L911.3 924.4 L912.5 929.2 L913.7 934.0 L915.0 938.8 L916.4 943.6 L917.9 948.4 L919.4 953.1 L921.0 957.8 L922.7 962.5 L924.5 967.2 L926.3 971.9 L928.3 976.5 L930.3 981.1 L932.3 985.6 L934.5 990.2 L936.7 994.6 L939.0 999.1 L941.4 1003.5 L943.9 1007.9 L946.4 1012.2 L949.0 1016.5 L951.6 1020.7 L954.4 1024.9 L957.2 1029.1 L960.1 1033.1 L963.1 1037.2 L966.1 1041.1 L969.2 1045.0 L972.3 1048.9 L975.6 1052.7 L978.9 1056.4 L982.3 1060.1 L985.7 1063.6 L989.2 1067.2 L992.8 1070.6 L996.4 1074.0 L1000.1 1077.2 L1003.9 1080.5 L1007.7 1083.6 L1011.6 1086.6 L1015.6 1089.6 L1019.6 1092.5 L1023.7 1095.3 L1027.8 1098.0 L1032.0 1100.6 L1036.3 1103.2 L1040.6 1105.7 L1044.9 1108.1 L1049.3 1110.5 L1053.8 1112.8 L1058.2 1115.0 L1062.7 1117.2 L1067.3 1119.3 L1071.9 1121.4 L1076.5 1123.4 L1081.1 1125.4 L1085.8 1127.3 L1090.5 1129.2 L1095.2 1131.0 L1099.9 1132.8 L1104.7 1134.6 L1109.5 1136.3 L1114.2 1138.0 L1119.0 1139.7 L1123.8 1141.3 L1128.6 1142.9 L1133.4 1144.5 L1138.2 1146.1 L1143.0 1147.6 L1147.9 1149.1 L1152.7 1150.6 L1157.5 1152.1 L1162.3 1153.6 L1167.2 1155.0 L1172.0 1156.4 L1176.8 1157.8 L1181.7 1159.1 L1186.5 1160.5 L1191.4 1161.8 L1196.2 1163.1 L1201.1 1164.4 L1205.9 1165.7 L1210.8 1166.9 L1215.7 1168.1 L1220.5 1169.3 L1225.4 1170.5 L1230.3 1171.7 L1235.1 1172.8 L1240.0 1174.0 L1244.9 1175.1 L1249.8 1176.2 L1254.7 1177.3 L1259.6 1178.3 L1264.5 1179.4 L1269.4 1180.4 L1274.3 1181.4 L1279.2 1182.4 L1284.1 1183.3 L1289.0 1184.3 L1293.9 1185.2 L1298.8 1186.2 L1303.7 1187.1 L1308.6 1188.0 L1313.6 1188.9 L1318.5 1189.7 L1323.4 1190.6 L1328.3 1191.4 L1333.3 1192.2 L1338.2 1193.0 L1343.1 1193.8 L1348.1 1194.6 L1353.0 1195.4 L1357.9 1196.1 L1362.9 1196.9 L1367.8 1197.6 L1372.8 1198.3 L1377.7 1199.0 L1382.7 1199.7 L1387.6 1200.4 L1392.6 1201.1 L1397.5 1201.7 L1402.5 1202.4 L1407.4 1203.0 L1412.4 1203.6 L1417.4 1204.2 L1422.3 1204.8 L1427.3 1205.4 L1432.3 1206.0 L1437.2 1206.6 L1442.2 1207.1 L1447.2 1207.7 L1452.1 1208.3 L1457.1 1208.8 L1462.1 1209.3 L1467.1 1209.8 L1472.0 1210.4 L1477.0 1210.9 L1482.0 1211.4 L1487.0 1211.8 L1491.9 1212.3 L1496.9 1212.8 L1501.9 1213.3 L1506.9 1213.7 L1511.9 1214.2 L1516.9 1214.6 L1521.8 1215.1 L1526.8 1215.5 L1531.8 1216.0 L1536.8 1216.4 L1541.8 1216.8 L1546.8 1217.2 L1551.8 1217.7 L1556.8 1218.1 L1561.7 1218.5 L1566.7 1218.9 L1571.7 1219.3 L1576.7 1219.7 L1581.7 1220.1 L1586.7 1220.5 L1591.7 1220.8 L1596.7 1221.2 L1601.7 1221.6 L1606.7 1222.0 L1611.7 1222.4 L1616.7 1222.8 L1621.6 1223.1 L1626.6 1223.5 L1631.6 1223.9 L1636.6 1224.3 L1641.6 1224.6 L1646.6 1225.0 L1651.6 1225.4 L1656.6 1225.7 L1661.6 1226.1 L1666.6 1226.5 L1671.6 1226.9 L1676.6 1227.2 L1681.6 1227.6 L1686.5 1228.0 L1691.5 1228.3 L1696.5 1228.7 L1701.5 1229.1 L1706.5 1229.4 L1711.5 1229.8 L1716.5 1230.2 L1721.5 1230.6 L1726.5 1230.9 L1731.5 1231.3 L1736.5 1231.7 L1741.5 1232.1 L1746.5 1232.4 L1751.5 1232.8 L1756.4 1233.2 L1761.4 1233.6 L1766.4 1234.0 L1771.4 1234.4 L1776.4 1234.7 L1781.4 1235.1 L1786.4 1235.5 L1791.4 1235.9 L1796.4 1236.3 L1801.4 1236.7 L1806.4 1237.1 L1811.4 1237.5 L1816.4 1237.9 L1821.4 1238.3 L1826.4 1238.7 L1831.4 1239.1 L1836.4 1239.6 L1841.4 1240.0 L1846.4 1240.4 L1851.4 1240.8 L1856.4 1241.2 L1861.4 1241.7 L1866.4 1242.1 L1871.4 1242.5 L1876.4 1243.0 L1881.4 1243.4 L1886.4 1243.9 L1891.4 1244.3 L1896.5 1244.8 L1901.5 1245.2 L1906.5 1245.7 L1911.5 1246.1 L1916.5 1246.6 L1921.5 1247.1 L1926.5 1247.6 L1931.5 1248.1 L1936.5 1248.6 L1941.5 1249.1 L1946.5 1249.6 L1951.5 1250.2 L1956.5 1250.7 L1961.5 1251.3 L1966.5 1251.9 L1971.5 1252.5 L1976.5 1253.1 L1981.5 1253.8 L1986.5 1254.5 L1991.4 1255.2 L1996.4 1255.9 L2001.3 1256.6 L2006.3 1257.4 L2011.2 1258.2 L2016.2 1259.0 L2021.1 1259.9 L2026.0 1260.8 L2030.9 1261.7 L2035.8 1262.6 L2040.7 1263.6 L2045.6 1264.6 L2050.5 1265.7 L2055.4 1266.8 L2060.2 1267.9 L2065.1 1269.1 L2069.9 1270.3 L2074.8 1271.6 L2079.6 1272.9 L2084.4 1274.2 L2089.2 1275.6 L2093.9 1277.0 L2098.7 1278.5 L2103.4 1280.0 L2108.2 1281.6 L2112.9 1283.3 L2117.6 1284.9 L2122.3 1286.7 L2127.0 1288.5 L2131.7 1290.3 L2136.3 1292.1 L2141.0 1294.0 L2145.7 1295.8 L2150.3 1297.6 L2155.0 1299.5 L2159.7 1301.3 L2164.4 1303.0 L2169.1 1304.7 L2173.8 1306.4 L2178.5 1307.9 L2183.3 1309.4 L2188.1 1310.8 L2192.9 1312.1 L2197.8 1313.3 L2202.6 1314.5 L2207.5 1315.5 L2212.5 1316.5 L2217.4 1317.4 L2222.3 1318.3 L2227.3 1319.1 L2232.2 1319.9 L2237.2 1320.7 L2242.1 1321.4 L2247.1 1322.2 L2252.1 1322.9 L2257.0 1323.6 L2262.0 1324.3 L2267.0 1325.0 L2272.0 1325.7 L2276.9 1326.3 L2281.9 1327.0 L2286.9 1327.7 L2291.8 1328.3 L2296.8 1328.9 L2301.8 1329.6 L2306.8 1330.2 L2311.7 1330.8 L2316.7 1331.4 L2321.7 1332.1 L2326.6 1332.7 L2331.6 1333.3 L2336.6 1333.9 L2341.6 1334.5 L2346.5 1335.2 L2351.5 1335.8 L2356.5 1336.4 L2361.4 1337.1 L2366.4 1337.7 L2371.3 1338.4 L2376.3 1339.0 L2381.3 1339.7 L2386.2 1340.4 L2391.2 1341.1 L2396.1 1341.8 L2401.1 1342.6 L2406.0 1343.3"/>
<path stroke="#008000" d="M306.3 46.3 L311.2 48.0 L315.9 49.9 L320.5 51.9 L325.0 54.1 L329.4 56.5 L333.7 59.0 L337.9 61.6 L342.0 64.3 L346.1 67.2 L350.1 70.1 L354.1 73.1 L358.0 76.2 L361.9 79.3 L365.7 82.5 L369.5 85.7 L373.4 89.0 L377.2 92.2 L381.0 95.5 L384.9 98.7 L388.7 101.9 L392.6 105.1 L396.6 108.2 L400.5 111.3 L404.6 114.3 L408.7 117.2 L412.8 120.1 L417.0 122.9 L421.3 125.6 L425.6 128.2 L429.9 130.7 L434.3 133.1 L438.7 135.5 L443.2 137.7 L447.7 139.9 L452.3 141.9 L456.9 143.8 L461.6 145.6 L466.2 147.3 L471.0 148.9 L475.7 150.3 L480.5 151.6 L485.4 152.8 L490.3 153.8 L495.2 154.7 L500.1 155.5 L505.1 156.2 L510.1 156.8 L515.1 157.2 L520.1 157.7 L525.1 158.0 L530.2 158.3 L535.2 158.6 L540.3 158.9 L545.3 159.1 L550.3 159.4 L555.4 159.7 L560.4 160.0 L565.4 160.4 L570.4 160.9 L575.3 161.5 L580.3 162.2 L585.2 163.0 L590.1 164.0 L595.0 165.1 L599.8 166.4 L604.6 167.7 L609.5 169.0 L614.3 170.4 L619.1 171.8 L623.9 173.1 L628.7 174.5 L633.5 175.8 L638.3 177.0 L643.1 178.3 L648.0 179.5 L652.8 180.6 L657.7 181.7 L662.6 182.8 L667.5 183.9 L672.4 184.8 L677.3 185.8 L682.3 186.6 L687.3 187.5 L692.3 188.2 L697.3 189.0 L702.3 189.7 L707.4 190.5 L712.4 191.4 L717.3 192.3 L722.2 193.3 L727.0 194.5 L731.8 195.9 L736.5 197.4 L741.1 199.2 L745.5 201.2 L749.9 203.4 L754.2 205.8 L758.4 208.4 L762.4 211.2 L766.4 214.1 L770.3 217.2 L774.1 220.5 L777.7 223.9 L781.3 227.5 L784.8 231.1 L788.1 234.9 L791.4 238.8 L794.6 242.8 L797.6 246.9 L800.6 251.1 L803.5 255.3 L806.3 259.6 L808.9 264.0 L811.5 268.4 L814.0 272.9 L816.3 277.3 L818.6 281.8 L820.8 286.4 L822.9 290.9 L824.9 295.5 L826.8 300.1 L828.7 304.7 L830.4 309.4 L832.1 314.1 L833.7 318.8 L835.3 323.5 L836.8 328.2 L838.2 333.0 L839.5 337.8 L840.8 342.6 L842.1 347.4 L843.3 352.2 L844.4 357.1 L845.5 361.9 L846.6 366.8 L847.6 371.7 L848.5 376.6 L849.5 381.5 L850.4 386.4 L851.3 391.3 L852.1 396.3 L852.9 401.2 L853.7 406.2 L854.5 411.1 L855.3 416.1 L856.1 421.1 L856.8 426.0 L857.6 431.0 L858.3 436.0 L859.0 440.9 L859.8 445.9 L860.5 450.9 L861.2 455.9 L861.9 460.9 L862.6 465.8 L863.3 470.8 L864.0 475.8 L864.7 480.8 L865.4 485.8 L866.1 490.8 L866.8 495.7 L867.5 500.7 L868.2 505.7 L868.8 510.7 L869.5 515.7 L870.2 520.7 L870.8 525.7 L871.5 530.7 L872.1 535.7 L872.8 540.6 L873.4 545.6 L874.1 550.6 L874.7 555.6 L875.3 560.6 L876.0 565.6 L876.6 570.6 L877.2 575.6 L877.8 580.5 L878.4 585.5 L879.1 590.5 L879.7 595.5 L880.3 600.5 L880.9 605.5 L881.5 610.4 L882.0 615.4 L882.6 620.4 L883.2 625.4 L883.8 630.3 L884.4 635.3 L885.0 640.3 L885.5 645.3 L886.1 650.2 L886.7 655.2 L887.2 660.1 L887.8 665.1 L888.3 670.1 L888.9 675.0 L889.4 680.0 L890.0 684.9 L890.5 689.9 L891.1 694.8 L891.6 699.8 L892.1 704.7 L892.7 709.6 L893.2 714.6 L893.7 719.5 L894.2 724.4 L894.8 729.4 L895.3 734.3 L895.8 739.2 L896.4 744.2 L896.9 749.1 L897.5 754.0 L898.0 758.9 L898.6 763.9 L899.2 768.8 L899.8 773.7 L900.4 778.7 L901.0 783.6 L901.6 788.5 L902.2 793.5 L902.9 798.4 L903.5 803.4 L904.2 808.3 L904.9 813.3 L905.6 818.3 L906.4 823.2 L907.1 828.2 L907.9 833.2 L908.7 838.2 L909.5 843.2 L910.4 848.2 L911.2 853.2 L912.1 858.2 L913.1 863.2 L914.0 868.3 L915.0 873.3 L916.1 878.3 L917.1 883.3 L918.3 888.3 L919.4 893.3 L920.6 898.2 L921.9 903.2 L923.2 908.1 L924.5 913.0 L925.9 917.9 L927.4 922.7 L928.9 927.6 L930.5 932.4 L932.1 937.1 L933.8 941.9 L935.6 946.5 L937.5 951.2 L939.4 955.8 L941.4 960.3 L943.4 964.8 L945.6 969.3 L947.8 973.7 L950.1 978.0 L952.5 982.3 L955.0 986.5 L957.6 990.6 L960.2 994.7 L963.0 998.7 L965.8 1002.7 L968.8 1006.6 L971.9 1010.4 L975.0 1014.1 L978.3 1017.7 L981.6 1021.3 L985.1 1024.7 L988.6 1028.2 L992.2 1031.5 L995.9 1034.8 L999.7 1038.0 L1003.5 1041.1 L1007.4 1044.2 L1011.4 1047.2 L1015.5 1050.1 L1019.6 1053.0 L1023.8 1055.8 L1028.0 1058.6 L1032.3 1061.3 L1036.6 1064.0 L1041.0 1066.6 L1045.4 1069.1 L1049.8 1071.6 L1054.3 1074.1 L1058.8 1076.5 L1063.3 1078.8 L1067.9 1081.2 L1072.5 1083.5 L1077.1 1085.7 L1081.7 1087.9 L1086.3 1090.1 L1090.9 1092.2 L1095.5 1094.3 L1100.1 1096.3 L1104.8 1098.4 L1109.4 1100.4 L1114.1 1102.3 L1118.8 1104.2 L1123.4 1106.1 L1128.1 1108.0 L1132.8 1109.8 L1137.5 1111.6 L1142.2 1113.3 L1146.9 1115.0 L1151.7 1116.7 L1156.4 1118.4 L1161.1 1120.0 L1165.9 1121.6 L1170.6 1123.2 L1175.4 1124.7 L1180.2 1126.2 L1184.9 1127.7 L1189.7 1129.2 L1194.5 1130.6 L1199.3 1132.0 L1204.1 1133.4 L1208.9 1134.7 L1213.7 1136.0 L1218.5 1137.3 L1223.3 1138.6 L1228.2 1139.8 L1233.0 1141.1 L1237.9 1142.3 L1242.7 1143.4 L1247.6 1144.6 L1252.4 1145.7 L1257.3 1146.8 L1262.1 1147.9 L1267.0 1148.9 L1271.9 1150.0 L1276.8 1151.0 L1281.7 1152.0 L1286.6 1153.0 L1291.5 1153.9 L1296.4 1154.9 L1301.3 1155.8 L1306.2 1156.7 L1311.1 1157.6 L1316.0 1158.4 L1320.9 1159.3 L1325.9 1160.1 L1330.8 1160.9 L1335.7 1161.7 L1340.7 1162.5 L1345.6 1163.3 L1350.5 1164.1 L1355.5 1164.8 L1360.4 1165.5 L1365.4 1166.2 L1370.3 1166.9 L1375.3 1167.6 L1380.3 1168.3 L1385.2 1169.0 L1390.2 1169.6 L1395.2 1170.3 L1400.1 1170.9 L1405.1 1171.5 L1410.1 1172.1 L1415.1 1172.7 L1420.0 1173.3 L1425.0 1173.9 L1430.0 1174.5 L1435.0 1175.1 L1439.9 1175.6 L1444.9 1176.2 L1449.9 1176.7 L1454.9 1177.3 L1459.9 1177.8 L1464.9 1178.3 L1469.9 1178.9 L1474.9 1179.4 L1479.8 1179.9 L1484.8 1180.4 L1489.8 1180.9 L1494.8 1181.4 L1499.8 1181.9 L1504.8 1182.4 L1509.8 1182.9 L1514.8 1183.4 L1519.8 1183.9 L1524.8 1184.4 L1529.7 1184.9 L1534.7 1185.4 L1539.7 1185.9 L1544.7 1186.4 L1549.7 1186.9 L1554.7 1187.4 L1559.7 1187.9 L1564.6 1188.4 L1569.6 1188.9 L1574.6 1189.4 L1579.6 1189.9 L1584.6 1190.4 L1589.6 1190.9 L1594.5 1191.4 L1599.5 1191.9 L1604.5 1192.4 L1609.5 1192.9 L1614.5 1193.4 L1619.4 1193.9 L1624.4 1194.5 L1629.4 1195.0 L1634.4 1195.5 L1639.4 1196.0 L1644.3 1196.5 L1649.3 1197.0 L1654.3 1197.5 L1659.3 1198.1 L1664.3 1198.6 L1669.2 1199.1 L1674.2 1199.6 L1679.2 1200.2 L1684.2 1200.7 L1689.1 1201.3 L1694.1 1201.8 L1699.1 1202.3 L1704.1 1202.9 L1709.0 1203.4 L1714.0 1204.0 L1719.0 1204.5 L1724.0 1205.1 L1728.9 1205.7 L1733.9 1206.2 L1738.9 1206.8 L1743.9 1207.4 L1748.8 1208.0 L1753.8 1208.5 L1758.8 1209.1 L1763.8 1209.7 L1768.7 1210.3 L1773.7 1210.9 L1778.7 1211.5 L1783.6 1212.1 L1788.6 1212.7 L1793.6 1213.3 L1798.6 1214.0 L1803.5 1214.6 L1808.5 1215.2 L1813.5 1215.9 L1818.4 1216.5 L1823.4 1217.2 L1828.4 1217.8 L1833.4 1218.5 L1838.3 1219.2 L1843.3 1219.8 L1848.3 1220.5 L1853.2 1221.2 L1858.2 1221.9 L1863.2 1222.6 L1868.1 1223.3 L1873.1 1224.0 L1878.0 1224.7 L1883.0 1225.5 L1888.0 1226.2 L1892.9 1226.9 L1897.9 1227.7 L1902.8 1228.4 L1907.8 1229.2 L1912.8 1230.0 L1917.7 1230.8 L1922.7 1231.6 L1927.6 1232.4 L1932.5 1233.2 L1937.5 1234.0 L1942.4 1234.8 L1947.4 1235.7 L1952.3 1236.5 L1957.3 1237.4 L1962.2 1238.2 L1967.1 1239.1 L1972.1 1240.0 L1977.0 1240.9 L1981.9 1241.8 L1986.9 1242.7 L1991.8 1243.6 L1996.7 1244.6 L2001.6 1245.5 L2006.5 1246.5 L2011.4 1247.4 L2016.4 1248.4 L2021.3 1249.4 L2026.2 1250.4 L2031.1 1251.4 L2036.0 1252.5 L2040.9 1253.5 L2045.8 1254.5 L2050.7 1255.6 L2055.6 1256.7 L2060.4 1257.8 L2065.3 1258.9 L2070.2 1260.0 L2075.1 1261.1 L2080.0 1262.2 L2084.8 1263.4 L2089.7 1264.5 L2094.6 1265.7 L2099.4 1266.8 L2104.3 1268.0 L2109.2 1269.2 L2114.0 1270.4 L2118.9 1271.6 L2123.8 1272.8 L2128.6 1274.0 L2133.5 1275.2 L2138.3 1276.4 L2143.2 1277.6 L2148.0 1278.9 L2152.9 1280.1 L2157.7 1281.3 L2162.6 1282.6 L2167.4 1283.8 L2172.3 1285.1 L2177.1 1286.3 L2182.0 1287.6 L2186.8 1288.8 L2191.7 1290.1 L2196.5 1291.4 L2201.3 1292.6 L2206.2 1293.9 L2211.0 1295.1 L2215.9 1296.4 L2220.7 1297.7 L2225.6 1298.9 L2230.4 1300.2 L2235.3 1301.4 L2240.1 1302.7 L2245.0 1303.9 L2249.8 1305.2 L2254.7 1306.4 L2259.5 1307.6 L2264.4 1308.9 L2269.2 1310.1 L2274.1 1311.3 L2278.9 1312.5 L2283.8 1313.8 L2288.7 1315.0 L2293.5 1316.2 L2298.4 1317.4 L2303.2 1318.5 L2308.1 1319.7 L2313.0 1320.9 L2317.8 1322.0 L2322.7 1323.2 L2327.6 1324.3 L2332.5 1325.5 L2337.4 1326.6 L2342.2 1327.7 L2347.1 1328.8 L2352.0 1329.9 L2356.9 1331.0 L2361.8 1332.0 L2366.7 1333.1 L2371.6 1334.1 L2376.5 1335.1 L2381.4 1336.2 L2386.3 1337.2 L2391.2 1338.1 L2396.2 1339.1 L2401.1 1340.1 L2406.0 1341.0"/>
</g>
<text class="tick" text-anchor="end" transform="translate(232 1558.3) scale(1 1.02)">0</text>
<text class="tick" text-anchor="end" transform="translate(232 1409.4) scale(1 1.02)">10</text>
<text class="tick" text-anchor="end" transform="translate(232 1260.5) scale(1 1.02)">20</text>
<text class="tick" text-anchor="end" transform="translate(232 1111.6) scale(1 1.02)">30</text>
<text class="tick" text-anchor="end" transform="translate(232 962.7) scale(1 1.02)">40</text>
<text class="tick" text-anchor="end" transform="translate(232 813.8) scale(1 1.02)">50</text>
<text class="tick" text-anchor="end" transform="translate(232 664.9) scale(1 1.02)">60</text>
<text class="tick" text-anchor="end" transform="translate(232 516.0) scale(1 1.02)">70</text>
<text class="tick" text-anchor="end" transform="translate(232 367.1) scale(1 1.02)">80</text>
<text class="tick" text-anchor="end" transform="translate(232 218.2) scale(1 1.02)">90</text>
<text class="tick" text-anchor="end" transform="translate(232 69.3) scale(1 1.02)">100</text>
<text class="tick" text-anchor="middle" transform="translate(293.3 1645.3) scale(1 1.02)">25</text>
<text class="tick" text-anchor="middle" transform="translate(511.0 1645.3) scale(1 1.02)">125</text>
<text class="tick" text-anchor="middle" transform="translate(727.4 1645.3) scale(1 1.02)">225</text>
<text class="tick" text-anchor="middle" transform="translate(943.9 1645.3) scale(1 1.02)">325</text>
<text class="tick" text-anchor="middle" transform="translate(1160.3 1645.3) scale(1 1.02)">425</text>
<text class="tick" text-anchor="middle" transform="translate(1376.8 1645.3) scale(1 1.02)">525</text>
<text class="tick" text-anchor="middle" transform="translate(1593.3 1645.3) scale(1 1.02)">625</text>
<text class="tick" text-anchor="middle" transform="translate(1809.7 1645.3) scale(1 1.02)">725</text>
<text class="tick" text-anchor="middle" transform="translate(2026.2 1645.3) scale(1 1.02)">825</text>
<text class="tick" text-anchor="middle" transform="translate(2242.7 1645.3) scale(1 1.02)">925</text>
<text class="title" font-size="83.5" text-anchor="middle" x="1350.8" y="1765.0">Temperature (°C)</text>
<text class="title" font-size="83.5" text-anchor="middle" transform="translate(76.0 789.8) rotate(-90) scale(1 1.027)">Weight loss (%)</text>
<g fill="none" stroke-width="9" stroke-linecap="round">
<line x1="1507.5" y1="350.5" x2="1599.5" y2="350.5" stroke="#000"/>
<line x1="1507.5" y1="457.7" x2="1667.5" y2="457.7" stroke="#7800D2"/>
<line x1="1507.5" y1="564.9" x2="1667.5" y2="564.9" stroke="#780030"/>
<line x1="1507.5" y1="672.1" x2="1667.5" y2="672.1" stroke="#FF9900"/>
<line x1="1507.5" y1="779.3" x2="1667.5" y2="779.3" stroke="#008000"/>
</g>
<g class="leg">
<text x="1683.7" y="370" font-size="79" textLength="134.6" lengthAdjust="spacingAndGlyphs">SiO</text>
<text x="1815.8" y="387.7" font-size="49" textLength="28" lengthAdjust="spacingAndGlyphs">2</text>
<text x="1842.4" y="370" font-size="79" textLength="434" lengthAdjust="spacingAndGlyphs">_APTES_120</text>
<text x="1685" y="478.7" font-size="79">NH-B</text>
<text x="1683.1" y="586" font-size="79" textLength="248.6" lengthAdjust="spacingAndGlyphs">CMS-B</text>
<text x="1685" y="693" font-size="79" textLength="207.1" lengthAdjust="spacingAndGlyphs">NH-A</text>
<text x="1683" y="800" font-size="79">CMS-A</text>
</g>
</svg></body></html>
